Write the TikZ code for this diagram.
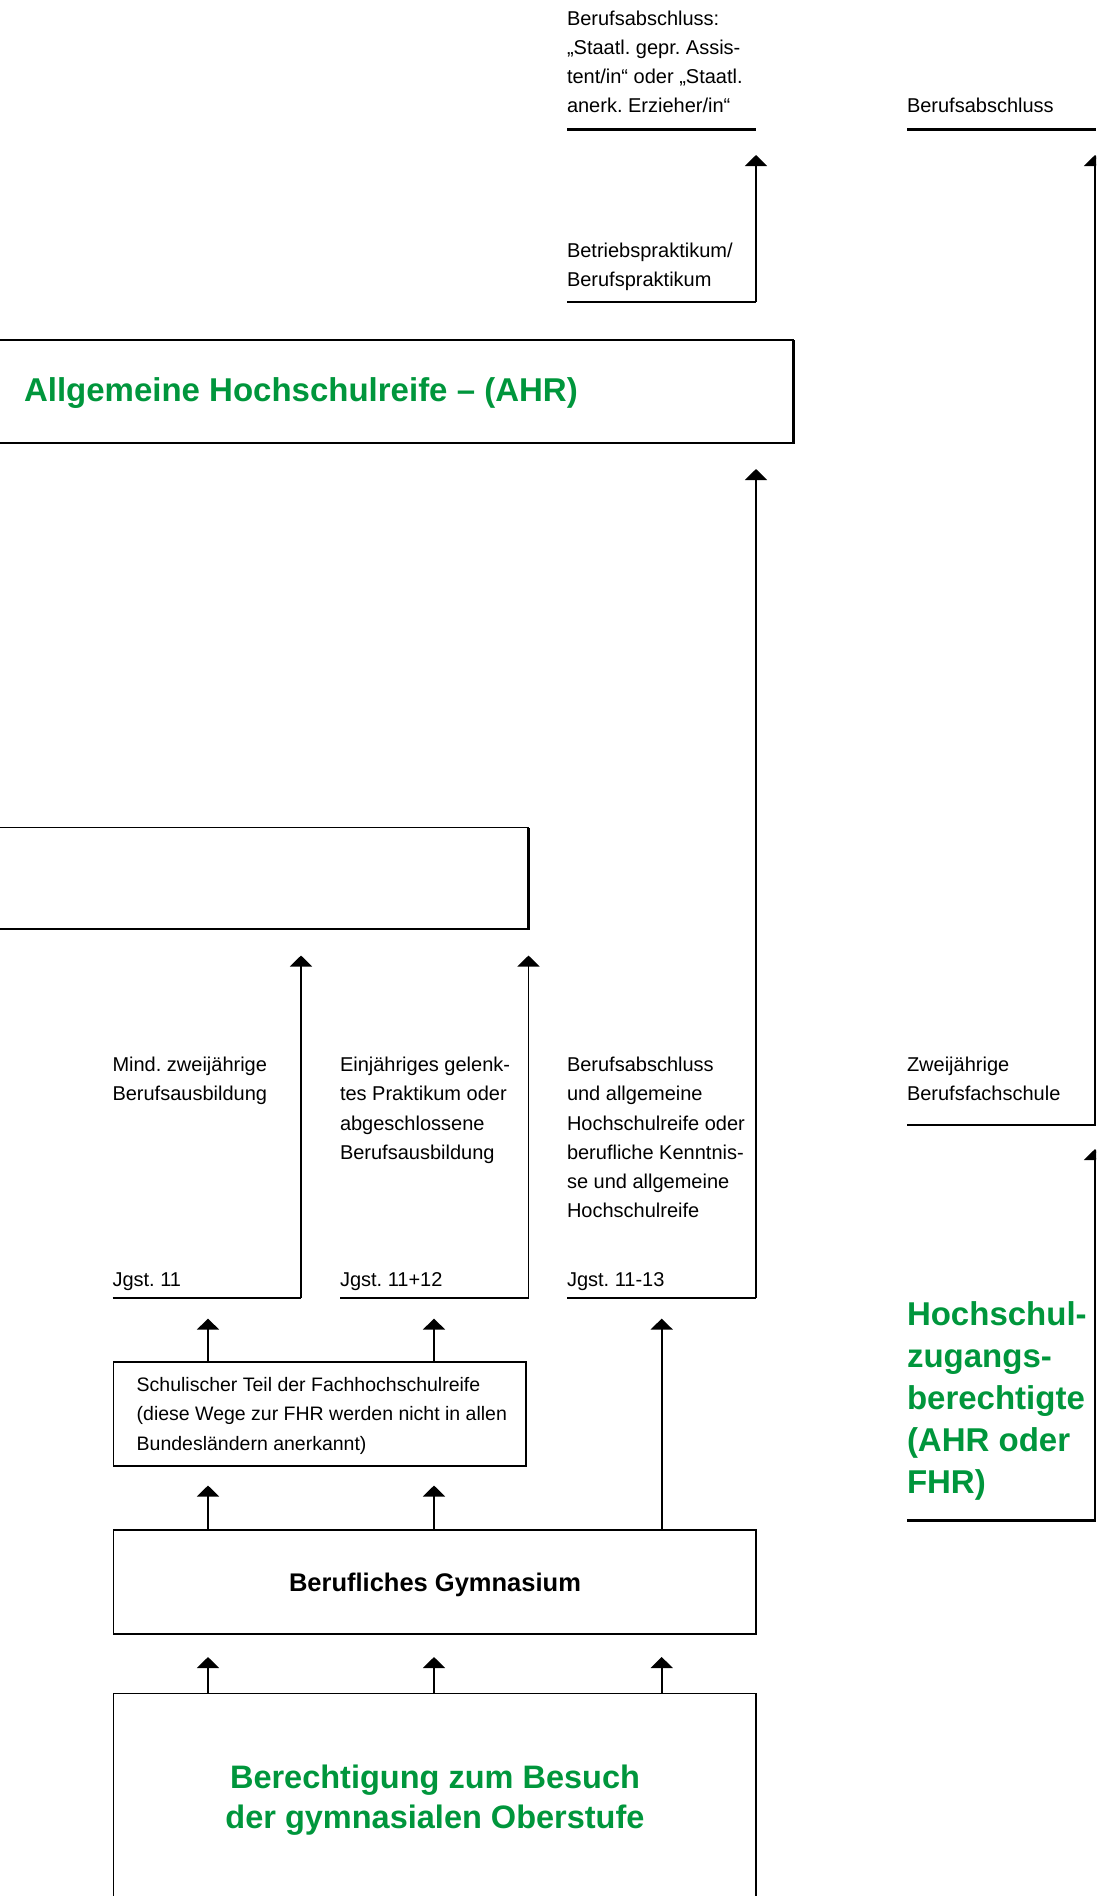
\documentclass[tikz,border=0pt]{standalone}
\usepackage{fontspec}
\setmainfont{Liberation Sans}
\usetikzlibrary{arrows.meta,calc}
\definecolor{hgreen}{RGB}{0,150,60}
\frenchspacing
\begin{document}
\begin{tikzpicture}[x=1pt,y=-1pt,
  txt/.style={anchor=base west,inner sep=0pt,outer sep=0pt,font=\fontsize{20}{29.2}\selectfont},
  stxt/.style={anchor=base west,inner sep=0pt,outer sep=0pt,font=\fontsize{19.5}{29.5}\selectfont},
  gtxt/.style={anchor=base west,inner sep=0pt,outer sep=0pt,text=hgreen,font=\fontsize{33}{42}\selectfont\bfseries},
  gctr/.style={anchor=base,inner sep=0pt,outer sep=0pt,text=hgreen,font=\fontsize{32.5}{40}\selectfont\bfseries},
  bctr/.style={anchor=base,inner sep=0pt,outer sep=0pt,font=\fontsize{25.5}{30}\selectfont\bfseries},
  box/.style={draw,line width=1.5pt,inner sep=0pt,outer sep=0pt,anchor=north west},
  heavy/.style={line width=2.5pt},
  rule/.style={line width=2.5pt},
  arr/.style={line width=1.9pt,-{Triangle[width=22pt,length=11pt]}},
]
\useasboundingbox (0,0) rectangle (1096,1896);
\clip (0,0) rectangle (1096,1896);

% ---------- top left column ----------
\node[txt] (ba1) at (567,25) {\vtop{\hbox{Berufsabschluss:}\hbox{„Staatl. gepr. Assis-}\hbox{tent/in“ oder „Staatl.}\hbox{anerk. Erzieher/in“}}};
\coordinate (r1a) at (567,129.5); \coordinate (r1b) at (756,129.5);
\draw[rule] (r1a) -- (r1b);
\node[txt] (bp) at (567,257) {\vtop{\hbox{Betriebspraktikum/}\hbox{Berufspraktikum}}};
\coordinate (r2a) at (567,302); \coordinate (r2b) at (756,302);
\coordinate (t1) at ($(r1b)+(0,25.5)$);
\draw[rule] (r2a) -- (r2b);
\draw[arr] (r2b) -- (t1);

% ---------- right column ----------
\node[txt] (ba2) at (907,112) {Berufsabschluss};
\coordinate (r3a) at (907,129.5); \coordinate (r3b) at (1096,129.5);
\draw[rule] (r3a) -- (r3b);
\node[txt] (zb) at (907,1071.7) {\vtop{\hbox{Zweijährige}\hbox{Berufsfachschule}}};
\coordinate (r4a) at (907,1125); \coordinate (r4b) at (1095,1125); \coordinate (r4c) at (1096,1125);
\coordinate (t2) at (1095,155);
\draw[rule] (r4a) -- (r4c);
\draw[arr] (r4b) -- (t2);
\node[gtxt] (hz) at (907,1325) {\vtop{\hbox{Hochschul-}\hbox{zugangs-}\hbox{berechtigte}\hbox{(AHR oder}\hbox{FHR)}}};
\coordinate (r5a) at (907,1520.6); \coordinate (r5b) at (1095,1520.6); \coordinate (r5c) at (1096,1520.6);
\coordinate (t3) at (1095,1149);
\draw[rule] (r5a) -- (r5c);
\draw[arr] (r5b) -- (t3);

% ---------- AHR box ----------
\node[box,minimum width=813.5pt,minimum height=103pt] (ahr) at (-20,340) {};
\draw[heavy] (ahr.south west) -- (ahr.south east) -- (ahr.north east);
\node[gtxt] (ahrt) at (24,401.7) {Allgemeine Hochschulreife – (AHR)};

% ---------- FHR box ----------
\node[box,minimum width=548.5pt,minimum height=101.5pt] (fhr) at (-20,827.5) {};
\draw[heavy] (fhr.south west) -- (fhr.south east) -- (fhr.north east);

% ---------- three columns ----------
\node[txt] (m1) at (112.5,1071.7) {\vtop{\hbox{Mind. zweijährige}\hbox{Berufsausbildung}}};
\node[txt] (j1) at (112.5,1286.7) {Jgst. 11};
\node[txt] (m2) at (340,1071.7) {\vtop{\hbox{Einjähriges gelenk-}\hbox{tes Praktikum oder}\hbox{abgeschlossene}\hbox{Berufsausbildung}}};
\node[txt] (j2) at (340,1286.7) {Jgst. 11+12};
\node[txt] (m3) at (567,1071.7) {\vtop{\hbox{Berufsabschluss}\hbox{und allgemeine}\hbox{Hochschulreife oder}\hbox{berufliche Kenntnis-}\hbox{se und allgemeine}\hbox{Hochschulreife}}};
\node[txt] (j3) at (567,1286.7) {Jgst. 11-13};

\coordinate (c1a) at (112.5,1298); \coordinate (c1b) at (301,1298);
\coordinate (c2a) at (340,1298);   \coordinate (c2b) at (528.5,1298);
\coordinate (c3a) at (567,1298);   \coordinate (c3b) at (756,1298);
\draw[rule] (c1a) -- (c1b);
\draw[rule] (c2a) -- (c2b);
\draw[rule] (c3a) -- (c3b);
\draw[arr] (c1b) -- ($(c1b |- fhr.south)+(0,26.5)$);
\draw[arr] (c2b) -- ($(c2b |- fhr.south)+(0,26.5)$);
\draw[arr] (c3b) -- ($(c3b |- ahr.south)+(0,26)$);

% ---------- Schulischer Teil ----------
\node[box,minimum width=412.3pt,minimum height=104pt] (sch) at (113.7,1362) {};
\draw[heavy] (sch.south west) -- (sch.south east) -- (sch.north east);
\node[stxt] (scht) at (136.7,1391) {\vtop{\hbox{Schulischer Teil der Fachhochschulreife}\hbox{(diese Wege zur FHR werden nicht in allen}\hbox{Bundesländern anerkannt)}}};
\coordinate (x1) at (208,0); \coordinate (x2) at (434,0); \coordinate (x3) at (661.7,0);
\draw[arr] (x1 |- sch.north) -- ($(x1 |- c1a)+(0,20.6)$);
\draw[arr] (x2 |- sch.north) -- ($(x2 |- c1a)+(0,20.6)$);

% ---------- Berufliches Gymnasium ----------
\node[box,minimum width=642.3pt,minimum height=104pt] (bg) at (113.7,1530) {};
\draw[heavy] (bg.south west) -- (bg.south east) -- (bg.north east);
\node[bctr] (bgt) at (435,1591.7) {Berufliches Gymnasium};
\draw[arr] (x1 |- bg.north) -- ($(x1 |- sch.south)+(0,19.5)$);
\draw[arr] (x2 |- bg.north) -- ($(x2 |- sch.south)+(0,19.5)$);
\draw[arr] (x3 |- bg.north) -- ($(x3 |- c3a)+(0,20.6)$);

% ---------- Berechtigung ----------
\node[box,minimum width=642.3pt,minimum height=250pt] (ber) at (113.7,1693.6) {};
\node[gctr] (bert1) at (435,1788) {Berechtigung zum Besuch};
\node[gctr] (bert2) at (435,1828) {der gymnasialen Oberstufe};
\draw[arr] (x1 |- ber.north) -- ($(x1 |- bg.south)+(0,23)$);
\draw[arr] (x2 |- ber.north) -- ($(x2 |- bg.south)+(0,23)$);
\draw[arr] (x3 |- ber.north) -- ($(x3 |- bg.south)+(0,23)$);
\end{tikzpicture}
\end{document}
